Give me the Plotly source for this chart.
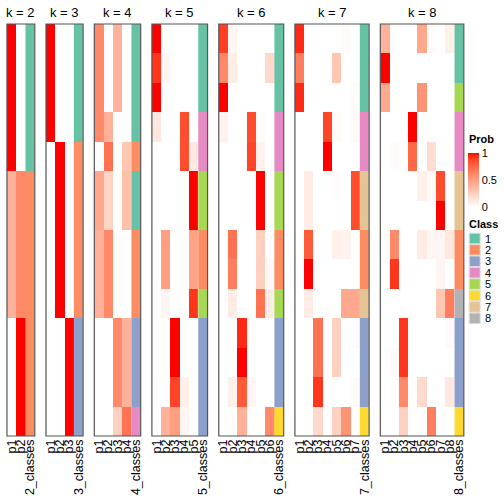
import numpy as np
import plotly.graph_objects as go

W = H = 504
n_rows = 14
k_values = [2, 3, 4, 5, 6, 7, 8]
class_colors = ["#66C2A5", "#FC8D62", "#8DA0CB", "#E78AC3", "#A6D854", "#FFD92F", "#E5C494", "#B3B3B3"]
class_labels = ["1", "2", "3", "4", "5", "6", "7", "8"]
prob_ticks = [0, 0.5, 1]

probs_k2 = [[1, 0]] * 5 + [[0.4, 0.6]] * 5 + [[0, 1]] * 4
class_k2 = [1] * 5 + [2] * 9

probs_k3 = [[1, 0, 0]] * 4 + [[0, 1, 0]] * 6 + [[0, 0, 1]] * 4
class_k3 = [1] * 4 + [2] * 6 + [3] * 4

probs_k4 = [
    [0.6, 0, 0.4, 0], [0.6, 0, 0.4, 0], [0.6, 0, 0.4, 0], [0.6, 0.4, 0, 0],
    [0, 0.7, 0, 0.3], [0.45, 0.22, 0, 0.33], [0.45, 0.22, 0, 0.33],
    [0.4, 0.6, 0, 0], [0.4, 0.6, 0, 0], [0.4, 0.6, 0, 0],
    [0, 0, 0.6, 0.4], [0, 0, 0.6, 0.4], [0, 0, 0.6, 0.4], [0, 0, 0.25, 0.7]]
class_k4 = [1, 1, 1, 1, 2, 1, 1, 2, 2, 2, 3, 3, 3, 4]

probs_k5 = [
    [1, 0, 0, 0, 0], [0.92, 0.05, 0, 0, 0], [1, 0, 0, 0, 0],
    [0.12, 0, 0, 0.85, 0], [0, 0, 0, 0.85, 0.12],
    [0, 0, 0, 0, 1], [0, 0, 0, 0, 1],
    [0, 0.5, 0, 0, 0.48], [0, 0.5, 0, 0, 0.48], [0, 0.05, 0, 0, 0.92],
    [0, 0, 1, 0, 0], [0, 0, 1, 0, 0], [0, 0, 0.88, 0.08, 0], [0, 0.4, 0.5, 0.05, 0]]
class_k5 = [1, 1, 1, 4, 4, 5, 5, 2, 2, 5, 3, 3, 3, 3]

probs_k6 = [
    [0.9, 0.05, 0, 0, 0, 0], [0.6, 0.1, 0, 0, 0, 0.2], [1, 0, 0, 0, 0, 0],
    [0.07, 0, 0, 0.85, 0.02, 0], [0, 0, 0, 0.88, 0.07, 0],
    [0, 0, 0, 0, 1, 0], [0, 0, 0, 0, 1, 0],
    [0, 0.7, 0, 0, 0.25, 0], [0, 0.65, 0, 0, 0.25, 0.03], [0, 0.1, 0, 0, 0.7, 0.1],
    [0, 0, 0.95, 0.02, 0, 0], [0, 0, 1, 0, 0, 0], [0, 0.08, 0.8, 0.05, 0, 0],
    [0, 0, 0.4, 0, 0, 0.6]]
class_k6 = [1, 1, 1, 4, 4, 5, 5, 2, 2, 5, 3, 3, 3, 6]

probs_k7 = [
    [0.95, 0, 0, 0, 0, 0.02, 0], [0.65, 0, 0, 0, 0.3, 0, 0], [0.95, 0, 0, 0, 0, 0, 0.02],
    [0, 0, 0, 0.88, 0.03, 0, 0.03], [0, 0, 0, 1, 0, 0, 0],
    [0, 0.1, 0, 0, 0.02, 0, 0.85], [0, 0.1, 0, 0, 0, 0, 0.85],
    [0, 0.8, 0, 0, 0.08, 0.06, 0], [0, 1, 0, 0, 0, 0, 0], [0, 0.1, 0, 0, 0, 0.45, 0.45],
    [0, 0, 0.7, 0, 0.25, 0, 0.02], [0, 0, 0.7, 0, 0.25, 0, 0], [0, 0, 0.92, 0, 0, 0, 0.03],
    [0, 0, 0.2, 0, 0.25, 0.55, 0]]
class_k7 = [1, 1, 1, 4, 4, 7, 7, 2, 2, 7, 3, 3, 3, 6]

probs_k8 = [
    [0.4, 0, 0, 0, 0.45, 0.02, 0, 0.08], [1, 0, 0, 0, 0, 0, 0, 0], [0.45, 0, 0, 0, 0.55, 0, 0, 0],
    [0, 0, 0, 1, 0, 0, 0, 0], [0, 0.02, 0, 0.75, 0, 0.18, 0, 0],
    [0, 0, 0, 0, 0.08, 0.03, 0.85, 0], [0, 0, 0, 0, 0, 0, 1, 0],
    [0, 0.6, 0, 0, 0.1, 0.05, 0.05, 0.12], [0, 0.92, 0, 0, 0, 0, 0.05, 0],
    [0, 0, 0, 0, 0, 0, 0.3, 0.65],
    [0, 0, 0.92, 0, 0, 0, 0, 0.03], [0, 0.03, 0.92, 0, 0, 0, 0, 0],
    [0, 0, 0.6, 0, 0.2, 0, 0, 0.12], [0, 0, 0.25, 0, 0, 0.65, 0, 0]]
class_k8 = [1, 1, 5, 4, 4, 7, 7, 2, 2, 8, 3, 3, 3, 6]

probs_all = [probs_k2, probs_k3, probs_k4, probs_k5, probs_k6, probs_k7, probs_k8]
class_all = [class_k2, class_k3, class_k4, class_k5, class_k6, class_k7, class_k8]


# white -> red colour ramp interpolated in CIE LAB (like colorRamp2)
def lab_to_rgb(L, a, b):
    fy = (L + 16) / 116
    fx = fy + a / 500
    fz = fy - b / 200
    def finv(t):
        return t ** 3 if t ** 3 > 0.008856 else (t - 16 / 116) / 7.787
    X, Y, Z = 0.95047 * finv(fx), finv(fy), 1.08883 * finv(fz)
    r = 3.2406 * X - 1.5372 * Y - 0.4986 * Z
    g = -0.9689 * X + 1.8758 * Y + 0.0415 * Z
    bb = 0.0557 * X - 0.2040 * Y + 1.0570 * Z
    out = []
    for c in (r, g, bb):
        c = min(max(c, 0), 1)
        c = 12.92 * c if c <= 0.0031308 else 1.055 * c ** (1 / 2.4) - 0.055
        out.append(int(round(min(max(c, 0), 1) * 255)))
    return "rgb(%d,%d,%d)" % tuple(out)

white_lab = np.array([100.0, 0.0, 0.0])
red_lab = np.array([53.24, 80.09, 67.20])
prob_scale = []
for t in np.linspace(0, 1, 21):
    lab = white_lab + (red_lab - white_lab) * t
    prob_scale.append([float(t), lab_to_rgb(*lab)])

n_cls = len(class_colors)
class_scale = []
for i, c in enumerate(class_colors):
    class_scale.append([i / n_cls, c])
    class_scale.append([(i + 1) / n_cls, c])

col_w = 9.35
gap = 11.3
x_start = 5.0
top_px, bot_px = 24, 436
cb_top, cb_bot = 153, 207

fig = go.Figure()
layout = {}
shapes = []
annotations = []
font = "Liberation Sans, Arial, sans-serif"

x0 = x_start
for i, k in enumerate(k_values):
    ax = "" if i == 0 else str(i + 1)
    ncol = k + 1
    x1 = x0 + ncol * col_w
    layout["xaxis" + ax] = dict(
        domain=[x0 / W, x1 / W], anchor="y" + ax, range=[-0.5, k + 0.5],
        tickmode="array", tickvals=list(range(k + 1)),
        ticktext=["p%d" % (j + 1) for j in range(k)] + ["%d_classes" % k],
        tickangle=-90, ticks="", showgrid=False, zeroline=False, showline=False,
        tickfont=dict(family=font, size=12.5, color="black"), fixedrange=True)
    layout["yaxis" + ax] = dict(
        domain=[1 - bot_px / H, 1 - top_px / H], anchor="x" + ax, range=[n_rows - 0.5, -0.5],
        visible=False, fixedrange=True)
    fig.add_trace(go.Heatmap(
        x=list(range(k)), y=list(range(n_rows)), z=probs_all[i], zmin=0, zmax=1,
        colorscale=prob_scale, xaxis="x" + ax, yaxis="y" + ax, hoverinfo="skip",
        showscale=(i == 0),
        colorbar=dict(x=470 / W, xanchor="left", y=1 - (cb_top + cb_bot) / 2 / H, yanchor="middle",
                      len=cb_bot - cb_top, lenmode="pixels", thickness=11, thicknessmode="pixels",
                      xpad=0, ypad=0, outlinewidth=0, tickvals=prob_ticks,
                      ticktext=["0", "0.5", "1"], ticks="",
                      tickfont=dict(family=font, size=11, color="black"))))
    fig.add_trace(go.Heatmap(
        x=[k], y=list(range(n_rows)), z=[[c] for c in class_all[i]], zmin=0.5, zmax=n_cls + 0.5,
        colorscale=class_scale, showscale=False, xaxis="x" + ax, yaxis="y" + ax, hoverinfo="skip"))
    shapes.append(dict(type="rect", xref="x%s domain" % ax, yref="y%s domain" % ax,
                       x0=0, x1=1, y0=0, y1=1, line=dict(color="#555555", width=1.2)))
    annotations.append(dict(text="k = %d" % k, xref="paper", yref="paper",
                            x=(x0 + x1) / 2 / W, y=1 - 12 / H, xanchor="center", yanchor="middle",
                            showarrow=False, font=dict(family=font, size=13, color="black")))
    x0 = x1 + gap

# dashed break marks on the colour bar
for v in (0.5, 1.0):
    yy = cb_bot - v * (cb_bot - cb_top)
    shapes.append(dict(type="line", xref="paper", yref="paper", x0=470 / W, x1=481 / W,
                       y0=1 - yy / H, y1=1 - yy / H, line=dict(color="rgba(255,255,255,0.8)", width=1, dash="dot")))

# legend titles
annotations.append(dict(text="<b>Prob</b>", xref="paper", yref="paper", x=469 / W, y=1 - 139 / H,
                        xanchor="left", yanchor="middle", showarrow=False,
                        font=dict(family=font, size=11, color="black")))
annotations.append(dict(text="<b>Class</b>", xref="paper", yref="paper", x=469 / W, y=1 - 224 / H,
                        xanchor="left", yanchor="middle", showarrow=False,
                        font=dict(family=font, size=11, color="black")))
for j, (c, lab) in enumerate(zip(class_colors, class_labels)):
    yc = 238.5 + j * 11.4
    shapes.append(dict(type="rect", xref="paper", yref="paper", x0=471 / W, x1=482 / W,
                       y0=1 - (yc + 5.3) / H, y1=1 - (yc - 5.3) / H, fillcolor=c,
                       line=dict(color="#dddddd", width=1)))
    annotations.append(dict(text=lab, xref="paper", yref="paper", x=485 / W, y=1 - yc / H,
                            xanchor="left", yanchor="middle", showarrow=False,
                            font=dict(family=font, size=11, color="black")))

fig.update_layout(width=W, height=H, margin=dict(l=0, r=0, t=0, b=0),
                  paper_bgcolor="white", plot_bgcolor="white", showlegend=False,
                  shapes=shapes, annotations=annotations, **layout)
fig.write_html("out.html", config={"displayModeBar": False},
               post_script="document.body.style.margin='0px';document.body.style.overflow='hidden';")
